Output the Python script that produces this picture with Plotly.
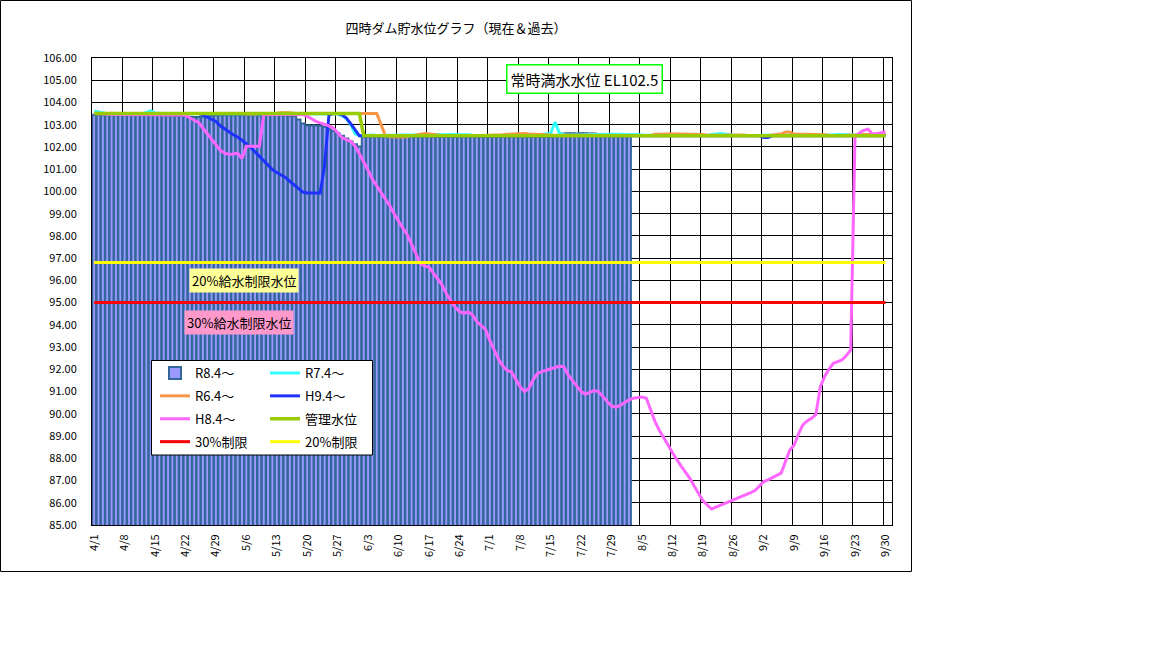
import plotly.graph_objects as go

# --- data ---
TITLE = "四時ダム貯水位グラフ（現在＆過去）"
TICK_LABELS = ["4/1", "4/8", "4/15", "4/22", "4/29", "5/6", "5/13", "5/20", "5/27",
               "6/3", "6/10", "6/17", "6/24", "7/1", "7/8", "7/15", "7/22", "7/29",
               "8/5", "8/12", "8/19", "8/26", "9/2", "9/9", "9/16", "9/23", "9/30"]
N_CATEGORIES = 184  # 4/1 .. 10/1 on the category axis

# R8.4~ (bars), daily from 4/1 to 8/2
R8_4 = [
    103.45, 103.44, 103.43, 103.43, 103.42, 103.42, 103.43,
    103.43, 103.43, 103.42, 103.42, 103.43, 103.43, 103.42,
    103.42, 103.42, 103.42, 103.41, 103.41, 103.40, 103.40,
    103.38, 103.36, 103.35, 103.35, 103.36, 103.38, 103.40,
    103.42, 103.42, 103.42, 103.42, 103.42, 103.42, 103.42,
    103.42, 103.42, 103.42, 103.42, 103.42, 103.42, 103.42,
    103.42, 103.42, 103.42, 103.40, 103.38, 103.23, 103.05,
    102.97, 102.97, 102.96, 102.95, 102.90, 102.80, 102.72,
    102.62, 102.50, 102.38, 102.25, 102.12, 102.02, 102.45,
    102.45, 102.45, 102.45, 102.45, 102.45, 102.45, 102.45,
    102.45, 102.45, 102.45, 102.45, 102.45, 102.45, 102.45,
    102.45, 102.45, 102.45, 102.45, 102.45, 102.45, 102.45,
    102.45, 102.45, 102.45, 102.45, 102.45, 102.45, 102.45,
    102.45, 102.45, 102.45, 102.45, 102.45, 102.45, 102.45,
    102.45, 102.45, 102.45, 102.45, 102.45, 102.45, 102.45,
    102.45, 102.46, 102.50, 102.60, 102.62, 102.62, 102.60,
    102.62, 102.62, 102.60, 102.60, 102.58, 102.47, 102.47,
    102.47, 102.46, 102.46, 102.47, 102.47,
]

# R7.4~
R7_4 = [
    103.62, 103.58, 103.52, 103.50, 103.50, 103.50, 103.50,
    103.50, 103.50, 103.50, 103.50, 103.50, 103.55, 103.62,
    103.53, 103.50, 103.50, 103.50, 103.50, 103.50, 103.50,
    103.50, 103.50, 103.50, 103.50, 103.50, 103.50, 103.50,
    103.50, 103.50, 103.50, 103.50, 103.50, 103.50, 103.50,
    103.50, 103.50, 103.50, 103.50, 103.50, 103.50, 103.50,
    103.50, 103.50, 103.50, 103.50, 103.50, 103.50, 103.50,
    103.50, 103.50, 103.50, 103.50, 103.50, 103.50, 103.50,
    103.48, 103.40, 103.28, 103.00, 102.60, 102.50, 102.52,
    102.55, 102.54, 102.52, 102.52, 102.53, 102.55, 102.55,
    102.54, 102.53, 102.52, 102.52, 102.54, 102.55, 102.55,
    102.56, 102.57, 102.56, 102.55, 102.56, 102.57, 102.56,
    102.55, 102.56, 102.55, 102.53, 102.52, 102.52, 102.53,
    102.52, 102.52, 102.53, 102.53, 102.52, 102.52, 102.52,
    102.52, 102.53, 102.54, 102.55, 102.55, 102.56, 102.58,
    102.62, 103.12, 102.62, 102.55, 102.54, 102.55, 102.55,
    102.54, 102.55, 102.56, 102.56, 102.55, 102.56, 102.57,
    102.57, 102.58, 102.57, 102.56, 102.57, 102.58, 102.56,
    102.54, 102.53, 102.52, 102.52, 102.53, 102.53, 102.54,
    102.55, 102.56, 102.55, 102.54, 102.53, 102.53, 102.52,
    102.52, 102.53, 102.55, 102.58, 102.60, 102.58, 102.55,
    102.53, 102.52, 102.52, 102.53, 102.53, 102.52, 102.52,
    102.52, 102.53, 102.53, 102.52, 102.52, 102.53, 102.53,
    102.52, 102.52, 102.53, 102.54, 102.53, 102.52, 102.52,
    102.53, 102.54, 102.55, 102.56, 102.55, 102.54, 102.53,
    102.53, 102.54, 102.55, 102.54, 102.53, 102.54, 102.55,
    102.55,
]

# R6.4~
R6_4 = [
    103.52, 103.50, 103.50, 103.50, 103.52, 103.50, 103.50,
    103.50, 103.50, 103.52, 103.50, 103.50, 103.50, 103.50,
    103.50, 103.50, 103.50, 103.52, 103.50, 103.50, 103.50,
    103.50, 103.50, 103.50, 103.50, 103.50, 103.50, 103.50,
    103.50, 103.50, 103.50, 103.50, 103.50, 103.50, 103.50,
    103.48, 103.47, 103.48, 103.50, 103.50, 103.50, 103.50,
    103.52, 103.54, 103.55, 103.54, 103.52, 103.50, 103.50,
    103.50, 103.50, 103.50, 103.50, 103.50, 103.50, 103.50,
    103.50, 103.50, 103.50, 103.50, 103.50, 103.50, 103.50,
    103.50, 103.50, 103.50, 103.00, 102.50, 102.46, 102.45,
    102.44, 102.45, 102.47, 102.50, 102.55, 102.58, 102.60,
    102.58, 102.55, 102.53, 102.52, 102.52, 102.53, 102.52,
    102.52, 102.52, 102.53, 102.53, 102.52, 102.52, 102.52,
    102.52, 102.52, 102.53, 102.55, 102.57, 102.58, 102.60,
    102.60, 102.60, 102.58, 102.57, 102.55, 102.53, 102.52,
    102.52, 102.52, 102.52, 102.53, 102.53, 102.52, 102.52,
    102.52, 102.52, 102.52, 102.52, 102.53, 102.53, 102.52,
    102.52, 102.52, 102.52, 102.52, 102.52, 102.52, 102.52,
    102.52, 102.52, 102.52, 102.57, 102.58, 102.58, 102.58,
    102.58, 102.58, 102.58, 102.58, 102.58, 102.58, 102.58,
    102.56, 102.54, 102.53, 102.52, 102.52, 102.53, 102.54,
    102.55, 102.55, 102.54, 102.53, 102.52, 102.52, 102.52,
    102.52, 102.52, 102.53, 102.55, 102.58, 102.67, 102.67,
    102.58, 102.56, 102.57, 102.57, 102.57, 102.57, 102.57,
    102.55, 102.53, 102.52, 102.52, 102.52, 102.53, 102.54,
    102.55, 102.56, 102.57, 102.56, 102.55, 102.54, 102.55,
    102.55,
]

# H9.4~
H9_4 = [
    103.50, 103.50, 103.50, 103.50, 103.50, 103.50, 103.50,
    103.50, 103.50, 103.50, 103.50, 103.50, 103.50, 103.50,
    103.50, 103.50, 103.50, 103.50, 103.50, 103.50, 103.50,
    103.50, 103.50, 103.50, 103.50, 103.44, 103.35, 103.25,
    103.15, 102.95, 102.80, 102.68, 102.55, 102.45, 102.30,
    102.15, 101.98, 101.78, 101.58, 101.38, 101.15, 100.98,
    100.85, 100.72, 100.63, 100.45, 100.28, 100.10, 99.97,
    99.93, 99.92, 99.92, 99.93, 101.20, 103.45, 103.50,
    103.50, 103.45, 103.30, 103.05, 102.80, 102.50, 102.50,
    102.50, 102.50, 102.50, 102.50, 102.50, 102.50, 102.50,
    102.50, 102.50, 102.50, 102.50, 102.50, 102.50, 102.50,
    102.50, 102.50, 102.50, 102.50, 102.50, 102.50, 102.50,
    102.50, 102.50, 102.50, 102.50, 102.50, 102.50, 102.50,
    102.50, 102.50, 102.50, 102.50, 102.50, 102.50, 102.50,
    102.50, 102.50, 102.50, 102.50, 102.50, 102.50, 102.50,
    102.50, 102.50, 102.50, 102.50, 102.50, 102.50, 102.50,
    102.50, 102.50, 102.50, 102.50, 102.50, 102.50, 102.50,
    102.50, 102.50, 102.50, 102.50, 102.50, 102.50, 102.50,
    102.50, 102.50, 102.50, 102.50, 102.50, 102.50, 102.50,
    102.50, 102.50, 102.50, 102.50, 102.50, 102.50, 102.50,
    102.50, 102.50, 102.50, 102.50, 102.50, 102.50, 102.50,
    102.50, 102.50, 102.50, 102.50, 102.50, 102.50, 102.50,
    102.43, 102.43, 102.50, 102.50, 102.50, 102.50, 102.50,
    102.50, 102.50, 102.50, 102.50, 102.50, 102.50, 102.50,
    102.50, 102.50, 102.50, 102.50, 102.50, 102.50, 102.50,
    102.50, 102.50, 102.50, 102.50, 102.50, 102.50, 102.50,
    102.50,
]

# H8.4~
H8_4 = [
    103.50, 103.48, 103.47, 103.47, 103.46, 103.46, 103.46,
    103.46, 103.46, 103.45, 103.45, 103.45, 103.45, 103.45,
    103.45, 103.45, 103.46, 103.46, 103.46, 103.45, 103.44,
    103.42, 103.30, 103.20, 103.10, 102.85, 102.60, 102.35,
    102.10, 101.85, 101.72, 101.66, 101.68, 101.72, 101.48,
    102.03, 102.03, 102.02, 102.03, 103.45, 103.46, 103.46,
    103.46, 103.46, 103.46, 103.46, 103.46, 103.46, 103.45,
    103.38, 103.25, 103.15, 103.08, 103.02, 102.95, 102.85,
    102.65, 102.42, 102.33, 102.25, 102.05, 101.70, 101.30,
    100.95, 100.55, 100.25, 99.95, 99.68, 99.35, 99.00,
    98.65, 98.35, 98.05, 97.65, 97.20, 96.75, 96.65,
    96.60, 96.35, 96.10, 95.80, 95.40, 95.10, 94.80,
    94.60, 94.52, 94.58, 94.45, 94.15, 93.98, 93.80,
    93.30, 92.90, 92.45, 92.15, 91.95, 91.88, 91.55,
    91.20, 91.00, 91.15, 91.55, 91.82, 91.90, 91.97,
    92.02, 92.08, 92.14, 92.12, 91.75, 91.50, 91.22,
    91.00, 90.88, 90.98, 91.05, 91.00, 90.75, 90.55,
    90.35, 90.30, 90.38, 90.50, 90.63, 90.70, 90.74,
    90.75, 90.70, 90.20, 89.65, 89.25, 88.95, 88.60,
    88.25, 87.92, 87.65, 87.38, 87.10, 86.75, 86.40,
    86.10, 85.90, 85.72, 85.80, 85.88, 85.97, 86.05,
    86.13, 86.20, 86.27, 86.35, 86.45, 86.55, 86.75,
    86.95, 87.03, 87.12, 87.22, 87.33, 87.85, 88.37,
    88.60, 89.10, 89.50, 89.68, 89.80, 89.97, 91.20,
    91.68, 92.00, 92.27, 92.35, 92.42, 92.62, 92.87,
    102.50, 102.62, 102.75, 102.80, 102.58, 102.60, 102.65,
    102.68,
]

# 管理水位
KANRI = [
    103.5, 103.5, 103.5, 103.5, 103.5, 103.5, 103.5,
    103.5, 103.5, 103.5, 103.5, 103.5, 103.5, 103.5,
    103.5, 103.5, 103.5, 103.5, 103.5, 103.5, 103.5,
    103.5, 103.5, 103.5, 103.5, 103.5, 103.5, 103.5,
    103.5, 103.5, 103.5, 103.5, 103.5, 103.5, 103.5,
    103.5, 103.5, 103.5, 103.5, 103.5, 103.5, 103.5,
    103.5, 103.5, 103.5, 103.5, 103.5, 103.5, 103.5,
    103.5, 103.5, 103.5, 103.5, 103.5, 103.5, 103.5,
    103.5, 103.5, 103.5, 103.5, 103.5, 103.5, 102.5,
    102.5, 102.5, 102.5, 102.5, 102.5, 102.5, 102.5,
    102.5, 102.5, 102.5, 102.5, 102.5, 102.5, 102.5,
    102.5, 102.5, 102.5, 102.5, 102.5, 102.5, 102.5,
    102.5, 102.5, 102.5, 102.5, 102.5, 102.5, 102.5,
    102.5, 102.5, 102.5, 102.5, 102.5, 102.5, 102.5,
    102.5, 102.5, 102.5, 102.5, 102.5, 102.5, 102.5,
    102.5, 102.5, 102.5, 102.5, 102.5, 102.5, 102.5,
    102.5, 102.5, 102.5, 102.5, 102.5, 102.5, 102.5,
    102.5, 102.5, 102.5, 102.5, 102.5, 102.5, 102.5,
    102.5, 102.5, 102.5, 102.5, 102.5, 102.5, 102.5,
    102.5, 102.5, 102.5, 102.5, 102.5, 102.5, 102.5,
    102.5, 102.5, 102.5, 102.5, 102.5, 102.5, 102.5,
    102.5, 102.5, 102.5, 102.5, 102.5, 102.5, 102.5,
    102.5, 102.5, 102.5, 102.5, 102.5, 102.5, 102.5,
    102.5, 102.5, 102.5, 102.5, 102.5, 102.5, 102.5,
    102.5, 102.5, 102.5, 102.5, 102.5, 102.5, 102.5,
    102.5, 102.5, 102.5, 102.5, 102.5, 102.5, 102.5,
    102.5,
]

LIMIT_30 = 95.0   # 30%給水制限水位
LIMIT_20 = 96.8   # 20%給水制限水位

# --- layout geometry (pixels of the 1152x648 page) ---
W, H = 1152, 648
PL, PR, PT, PB = 92, 892, 58, 525
FONT = "Noto Sans CJK JP"


def px(x):
    return (x - PL) / (PR - PL)


def py(y):
    return (PB - y) / (PB - PT)


def days(series):
    return list(range(len(series)))


fig = go.Figure()

fig.add_trace(go.Bar(
    x=days(R8_4), y=R8_4, name="R8.4〜",
    marker=dict(color="#9999FF", line=dict(color="#336699", width=2)),
    legend="legend", legendgroup="a1",
))

line_specs = [
    ("R7.4〜", R7_4, "#33FFFF", 3, "legend2", "b1"),
    ("R6.4〜", R6_4, "#F79646", 3, "legend", "a2"),
    ("H9.4〜", H9_4, "#1D32FF", 3, "legend2", "b2"),
    ("H8.4〜", H8_4, "#FF66FF", 3, "legend", "a3"),
    ("管理水位", KANRI, "#99CC00", 3.5, "legend2", "b3"),
]
for name, vals, color, width, leg, grp in line_specs:
    fig.add_trace(go.Scatter(
        x=days(vals), y=vals, name=name, mode="lines",
        line=dict(color=color, width=width),
        legend=leg, legendgroup=grp,
    ))

n_days = len(R7_4)
fig.add_trace(go.Scatter(
    x=list(range(n_days)), y=[LIMIT_30] * n_days, name="30%制限", mode="lines",
    line=dict(color="#FF0000", width=3), legend="legend", legendgroup="a4",
))
fig.add_trace(go.Scatter(
    x=list(range(n_days)), y=[LIMIT_20] * n_days, name="20%制限", mode="lines",
    line=dict(color="#FFFF00", width=3), legend="legend2", legendgroup="b4",
))

legend_common = dict(
    xanchor="left", yanchor="top", y=py(358),
    bgcolor="rgba(0,0,0,0)", borderwidth=0,
    font=dict(family=FONT, size=13, color="black"),
    tracegroupgap=3, traceorder="grouped", itemwidth=30,
)

fig.update_layout(
    width=W, height=H,
    margin=dict(l=PL, r=W - PR, t=PT, b=H - PB),
    paper_bgcolor="white", plot_bgcolor="white",
    font=dict(family=FONT, size=11, color="black"),
    title=dict(text=TITLE, x=456 / W, xref="container", xanchor="center",
               y=1 - 28 / H, yref="container", yanchor="middle",
               font=dict(family=FONT, size=13, color="black")),
    bargap=0.1,
    hovermode=False,
    legend=dict(x=px(155), **legend_common),
    legend2=dict(x=px(265), **legend_common),
    xaxis=dict(
        range=[-0.5, N_CATEGORIES - 0.5],
        tickmode="array",
        tickvals=list(range(0, n_days, 7)),
        ticktext=TICK_LABELS,
        tickangle=-90,
        ticks="",
        ticklabelstandoff=4,
        tickfont=dict(family=FONT, size=11, color="black"),
        showgrid=False,
        zeroline=False,
        showline=True, mirror=True, linecolor="black", linewidth=1,
        minor=dict(tickmode="array",
                   tickvals=[k * 7 - 0.5 for k in range(1, 27)],
                   showgrid=True, gridcolor="black", gridwidth=1, ticks=""),
    ),
    yaxis=dict(
        range=[85, 106],
        tick0=85, dtick=1,
        tickformat=".2f",
        ticks="",
        ticklabelstandoff=12,
        tickfont=dict(family=FONT, size=11, color="black"),
        showgrid=True, gridcolor="black", gridwidth=1,
        zeroline=False,
        showline=True, mirror=True, linecolor="black", linewidth=1,
    ),
    shapes=[
        # outer chart frame
        dict(type="rect", xref="paper", yref="paper",
             x0=px(0.5), x1=px(911.5), y0=py(571.5), y1=py(0.5),
             line=dict(color="black", width=1), layer="below"),
        # legend box
        dict(type="rect", xref="paper", yref="paper",
             x0=px(151.5), x1=px(372.5), y0=py(455), y1=py(360.5),
             fillcolor="white", line=dict(color="black", width=1), layer="above"),
    ],
    annotations=[
        dict(text="常時満水水位 EL102.5", xref="paper", yref="paper",
             x=px(584), y=py(79), xanchor="center", yanchor="middle",
             showarrow=False,
             bgcolor="white", bordercolor="#00FF00", borderwidth=1.5, borderpad=3,
             font=dict(family=FONT, size=15, color="black")),
        dict(text="20%給水制限水位", xref="paper", yref="paper",
             x=px(244), y=py(280), xanchor="center", yanchor="middle",
             showarrow=False, bgcolor="#FFFF99", borderpad=2,
             font=dict(family=FONT, size=13, color="black")),
        dict(text="30%給水制限水位", xref="paper", yref="paper",
             x=px(239), y=py(322), xanchor="center", yanchor="middle",
             showarrow=False, bgcolor="#FF99CC", borderpad=2,
             font=dict(family=FONT, size=13, color="black")),
    ],
)

# the page is photographed from its top-left corner, so drop the body margin
fig.write_html("out.html", config={"displayModeBar": False},
               post_script="document.body.style.margin='0px';")
